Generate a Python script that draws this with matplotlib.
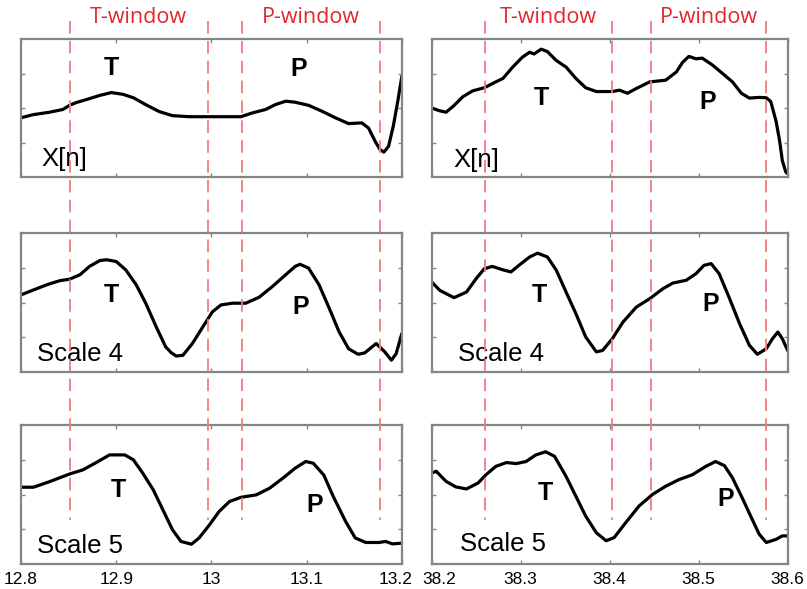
import numpy as np
import matplotlib
matplotlib.use("Agg")
import matplotlib.pyplot as plt
from matplotlib.lines import Line2D
from matplotlib.transforms import blended_transform_factory, ScaledTranslation

plt.rcParams['font.family'] = ['Liberation Sans', 'DejaVu Sans']

# ---- signal traces (time in s, amplitude in panel units 0..4) ----
t_xn_a = [12.800, 12.813, 12.830, 12.844, 12.851, 12.858, 12.869, 12.883, 12.895, 12.907,
          12.918, 12.931, 12.945, 12.959, 12.977, 12.994, 13.008, 13.022, 13.031, 13.043,
          13.057, 13.067, 13.078, 13.088, 13.102, 13.116, 13.130, 13.144, 13.158, 13.165,
          13.172, 13.177, 13.181, 13.186, 13.191, 13.196, 13.200]
y_xn_a = [1.72, 1.81, 1.88, 1.96, 2.08, 2.16, 2.25, 2.37, 2.45, 2.40,
          2.30, 2.10, 1.90, 1.78, 1.75, 1.75, 1.75, 1.75, 1.75, 1.86,
          1.96, 2.10, 2.20, 2.17, 2.08, 1.91, 1.72, 1.55, 1.57, 1.42,
          1.03, 0.80, 0.72, 0.89, 1.48, 2.25, 2.93]

t_xn_b = [38.200, 38.209, 38.216, 38.224, 38.235, 38.246, 38.259, 38.272, 38.280, 38.291,
          38.302, 38.310, 38.315, 38.323, 38.330, 38.340, 38.351, 38.362, 38.373, 38.385,
          38.403, 38.411, 38.420, 38.430, 38.445, 38.463, 38.475, 38.482, 38.489, 38.497,
          38.504, 38.516, 38.527, 38.538, 38.548, 38.557, 38.568, 38.576, 38.581, 38.587,
          38.591, 38.594, 38.598, 38.600]
y_xn_b = [2.00, 1.92, 1.88, 2.05, 2.33, 2.50, 2.59, 2.76, 2.86, 3.19,
          3.48, 3.62, 3.57, 3.71, 3.64, 3.38, 3.19, 2.86, 2.59, 2.48,
          2.48, 2.52, 2.43, 2.57, 2.76, 2.81, 3.05, 3.33, 3.50, 3.43,
          3.45, 3.24, 3.00, 2.76, 2.43, 2.29, 2.31, 2.30, 2.19, 1.62,
          1.05, 0.48, 0.14, 0.10]

t_s4_a = [12.800, 12.813, 12.827, 12.841, 12.851, 12.862, 12.872, 12.883, 12.890, 12.900,
          12.910, 12.921, 12.931, 12.942, 12.952, 12.958, 12.963, 12.970, 12.980, 12.991,
          13.001, 13.010, 13.022, 13.036, 13.050, 13.064, 13.078, 13.088, 13.093, 13.102,
          13.113, 13.123, 13.134, 13.144, 13.154, 13.161, 13.173, 13.182, 13.189, 13.194,
          13.200]
y_s4_a = [2.22, 2.36, 2.51, 2.63, 2.67, 2.80, 3.04, 3.21, 3.23, 3.18,
          2.94, 2.51, 1.98, 1.30, 0.72, 0.55, 0.46, 0.48, 0.82, 1.30,
          1.73, 1.93, 1.98, 1.98, 2.15, 2.46, 2.80, 3.04, 3.10, 2.99,
          2.51, 1.88, 1.16, 0.67, 0.51, 0.55, 0.82, 0.58, 0.34, 0.53,
          1.11]

t_s4_b = [38.200, 38.209, 38.225, 38.239, 38.250, 38.259, 38.268, 38.280, 38.289, 38.298,
          38.310, 38.319, 38.330, 38.340, 38.351, 38.362, 38.373, 38.385, 38.392, 38.403,
          38.415, 38.430, 38.445, 38.460, 38.471, 38.486, 38.497, 38.506, 38.514, 38.523,
          38.534, 38.546, 38.557, 38.566, 38.576, 38.583, 38.589, 38.594, 38.600]
y_s4_b = [2.59, 2.35, 2.14, 2.30, 2.69, 2.97, 3.04, 2.94, 2.88, 3.07,
          3.31, 3.42, 3.31, 2.93, 2.30, 1.68, 1.01, 0.58, 0.62, 0.96,
          1.44, 1.87, 2.11, 2.40, 2.56, 2.64, 2.83, 3.07, 3.12, 2.83,
          2.16, 1.39, 0.77, 0.51, 0.67, 0.96, 1.15, 0.96, 0.62]

t_s5_a = [12.800, 12.813, 12.830, 12.851, 12.865, 12.879, 12.893, 12.909, 12.918, 12.928,
          12.939, 12.949, 12.959, 12.968, 12.979, 12.987, 12.998, 13.008, 13.019, 13.031,
          13.047, 13.061, 13.075, 13.088, 13.099, 13.107, 13.118, 13.128, 13.141, 13.151,
          13.162, 13.176, 13.183, 13.190, 13.200]
y_s5_a = [2.21, 2.21, 2.37, 2.59, 2.71, 2.92, 3.14, 3.14, 3.00, 2.61,
          2.13, 1.56, 0.99, 0.65, 0.57, 0.75, 1.13, 1.51, 1.80, 1.92,
          1.99, 2.18, 2.47, 2.76, 2.95, 2.90, 2.56, 1.94, 1.22, 0.75,
          0.62, 0.62, 0.65, 0.58, 0.60]

t_s5_b = [38.200, 38.205, 38.216, 38.227, 38.239, 38.252, 38.261, 38.272, 38.284, 38.295,
          38.306, 38.317, 38.328, 38.338, 38.351, 38.362, 38.373, 38.385, 38.396, 38.405,
          38.418, 38.433, 38.448, 38.463, 38.478, 38.493, 38.508, 38.519, 38.529, 38.538,
          38.549, 38.561, 38.568, 38.576, 38.587, 38.594, 38.600]
y_s5_b = [2.62, 2.67, 2.38, 2.22, 2.16, 2.33, 2.57, 2.81, 2.92, 2.89,
          2.95, 3.14, 3.23, 3.10, 2.52, 1.95, 1.38, 0.90, 0.67, 0.76,
          1.19, 1.67, 2.00, 2.24, 2.43, 2.57, 2.81, 2.95, 2.83, 2.48,
          1.90, 1.24, 0.86, 0.62, 0.71, 0.81, 0.81]

# window boundaries (T start, T end, P start, P end)
win_a = [12.851, 12.996, 13.032, 13.177]
win_b = [38.260, 38.403, 38.446, 38.576]

xlim_a = (12.8, 13.2)
xlim_b = (38.2, 38.6)
xticks_a = [12.8, 12.9, 13.0, 13.1, 13.2]
xticklabels_a = ['12.8', '12.9', '13', '13.1', '13.2']
xticks_b = [38.2, 38.3, 38.4, 38.5, 38.6]
xticklabels_b = ['38.2', '38.3', '38.4', '38.5', '38.6']

row_names = ['X[n]', 'Scale 4', 'Scale 5']
traces_a = [(t_xn_a, y_xn_a), (t_s4_a, y_s4_a), (t_s5_a, y_s5_a)]
traces_b = [(t_xn_b, y_xn_b), (t_s4_b, y_s4_b), (t_s5_b, y_s5_b)]

# wave label positions (x, y) for T and P, and name label position
labels_a = [((12.895, 3.17), (13.092, 3.13), (12.846, 0.52)),
            ((12.895, 2.22), (13.094, 1.88), (12.862, 0.53)),
            ((12.902, 2.13), (13.108, 1.70), (12.862, 0.51))]
labels_b = [((38.323, 2.29), (38.510, 2.19), (38.250, 0.48)),
            ((38.321, 2.21), (38.514, 1.97), (38.278, 0.53)),
            ((38.328, 2.05), (38.530, 1.86), (38.280, 0.57))]

fig = plt.figure(figsize=(8.07, 5.89), dpi=100)

col_x = [(0.026, 0.472), (0.535, 0.441)]
row_y = [(0.6995, 0.234), (0.3684, 0.236), (0.0424, 0.236)]

frame_col = '#858585'
red = '#e3262b'
dash_col = '#f07c82'


def setup(ax, xlim, xticks, xticklabels, bottom):
    ax.set_xlim(*xlim)
    ax.set_ylim(0, 4)
    ax.set_xticks(xticks)
    ax.set_yticks([1, 2, 3])
    ax.set_yticklabels([])
    if bottom:
        ax.set_xticklabels(xticklabels, fontsize=12.5)
    else:
        ax.set_xticklabels([])
    ax.tick_params(direction='in', length=3, width=1, color=frame_col,
                   top=True, right=True, pad=6)
    for s in ax.spines.values():
        s.set_color(frame_col)
        s.set_linewidth(1.6)


axes_cols = []
for ci, (traces, labels, xlim, xticks, xtl) in enumerate([
        (traces_a, labels_a, xlim_a, xticks_a, xticklabels_a),
        (traces_b, labels_b, xlim_b, xticks_b, xticklabels_b)]):
    col_axes = []
    for ri in range(3):
        x0, w = col_x[ci]
        y0, h = row_y[ri]
        ax = fig.add_axes([x0, y0, w, h])
        t, y = traces[ri]
        ax.plot(t, y, color='black', lw=2.3, solid_joinstyle='round',
                solid_capstyle='round')
        setup(ax, xlim, xticks, xtl, ri == 2)
        (tx, ty), (px, py), (nx, ny) = labels[ri]
        ax.text(tx, ty, 'T', fontsize=18, fontweight='bold', ha='center', va='center')
        ax.text(px, py, 'P', fontsize=18, fontweight='bold', ha='center', va='center')
        ax.text(nx, ny, row_names[ri], fontsize=18.5, ha='center', va='center')
        col_axes.append(ax)
    axes_cols.append(col_axes)

# the two labels where the columns meet sit a bit apart
fig.canvas.draw()
lab_end = axes_cols[0][2].get_xticklabels()[-1]
lab_end.set_transform(lab_end.get_transform() + ScaledTranslation(-6 / 100, 0, fig.dpi_scale_trans))
lab_start = axes_cols[1][2].get_xticklabels()[0]
lab_start.set_transform(lab_start.get_transform() + ScaledTranslation(7 / 100, 0, fig.dpi_scale_trans))

# dashed window boundaries running through all three rows
for col_axes, wins in zip(axes_cols, [win_a, win_b]):
    trans = blended_transform_factory(col_axes[0].transData, fig.transFigure)
    for xv in wins:
        fig.add_artist(Line2D([xv, xv], [0.964, 0.117], transform=trans,
                              color=dash_col, lw=1.3, linestyle=(0, (7, 4))))
    for (a, b), name in [((wins[0], wins[1]), 'T-window'), ((wins[2], wins[3]), 'P-window')]:
        fig.text((a + b) / 2, 0.971, name, transform=trans, color=red, fontsize=15.5,
                 family=['Open Sans', 'DejaVu Sans'], ha='center', va='center')

fig.savefig('out.png', dpi=100)
